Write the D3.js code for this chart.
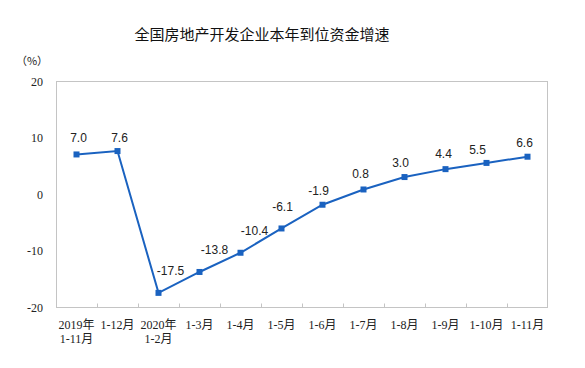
<!DOCTYPE html>
<html><head><meta charset="utf-8">
<script src="https://cdn.jsdelivr.net/npm/d3@7/dist/d3.min.js"></script>
<style>body{margin:0;background:#fff}</style>
</head><body>
<svg id="chart" width="585" height="368"></svg>
<script>
const title = "全国房地产开发企业本年到位资金增速";
const unitLabel = "（%）";
const categories = ["2019年1-11月","1-12月","2020年1-2月","1-3月","1-4月","1-5月","1-6月","1-7月","1-8月","1-9月","1-10月","1-11月"];
const values = [7.0, 7.6, -17.5, -13.8, -10.4, -6.1, -1.9, 0.8, 3.0, 4.4, 5.5, 6.6];
const yTicks = [-20, -10, 0, 10, 20];

// label placement nudges (style only)
const labelNudge = [[2,-12],[2,-9],[12,-18],[15,-18],[14,-18],[1,-17],[-4,-10],[-3,-11],[-4,-10],[-2,-11],[-9,-9],[-3,-10]];

const svg = d3.select("#chart");
const m = {left:56, right:548, top:81, bottom:307};
const x = d3.scaleBand().domain(categories).range([m.left, m.right]);
const y = d3.scaleLinear().domain([-20, 20]).range([m.bottom, m.top]);
const blue = "#1a62c0";
const serif = "'Liberation Serif','Noto Sans CJK SC',serif";
const sans = "'Liberation Sans',Arial,sans-serif";

svg.append("text").attr("x", 262).attr("y", 40).attr("text-anchor","middle")
  .style("font-family","'Noto Sans CJK SC',sans-serif").style("font-size","15px").attr("fill","#111").text(title);
svg.append("text").attr("x", 32).attr("y", 65).attr("text-anchor","middle")
  .style("font-family","'Noto Sans CJK SC',serif").style("font-size","11px").attr("fill","#222").text(unitLabel);

// plot border
svg.append("rect").attr("x", m.left+0.5).attr("y", m.top+0.5)
  .attr("width", m.right-m.left-1).attr("height", m.bottom-m.top)
  .attr("fill","none").attr("stroke","#c4c4c4").attr("stroke-width",1);

// y axis labels
const yAxis = d3.axisLeft(y).tickValues(yTicks).tickSize(0).tickPadding(0).tickFormat(d => String(d));
const ya = svg.append("g").attr("transform",`translate(${m.left-13},0)`).call(yAxis);
ya.select(".domain").remove();
ya.selectAll("text").style("font-family",serif).style("font-size","12px").attr("fill","#222").attr("dy","0.35em");

// x axis
const xa = svg.append("g").attr("transform",`translate(0,${m.bottom+0.5})`);
xa.append("line").attr("x1",m.left).attr("x2",m.right).attr("stroke","#c4c4c4");
categories.slice(1).forEach(c => {
  const tx = Math.round(x(c)) + 0.5;
  xa.append("line").attr("x1",tx).attr("x2",tx).attr("y1",0).attr("y2",-4).attr("stroke","#c4c4c4");
});
categories.forEach(c => {
  const cx = x(c) + x.bandwidth()/2;
  const idx = c.indexOf("年");
  const lines = idx >= 0 ? [c.slice(0, idx+1), c.slice(idx+1)] : [c];
  const t = svg.append("text").attr("x", cx).attr("y", 329).attr("text-anchor","middle")
    .style("font-family",serif).style("font-size","12px").attr("fill","#222");
  lines.forEach((l,i) => t.append("tspan").attr("x",cx).attr("dy", i? 14 : 0).text(l));
});

// line
const line = d3.line().x((d,i)=>x(categories[i])+x.bandwidth()/2).y(d=>y(d));
svg.append("path").datum(values).attr("d",line).attr("fill","none").attr("stroke",blue).attr("stroke-width",2);
svg.selectAll("rect.pt").data(values).enter().append("rect").attr("class","pt")
  .attr("x",(d,i)=>x(categories[i])+x.bandwidth()/2-3).attr("y",d=>y(d)-3)
  .attr("width",6).attr("height",6).attr("fill",blue);

svg.selectAll("text.val").data(values).enter().append("text").attr("class","val")
  .attr("x",(d,i)=>x(categories[i])+x.bandwidth()/2+labelNudge[i][0])
  .attr("y",(d,i)=>y(d)+labelNudge[i][1])
  .attr("text-anchor","middle").style("font-family",sans).style("font-size","12px").attr("fill","#222")
  .text(d=>d.toFixed(1));
</script>
</body></html>
